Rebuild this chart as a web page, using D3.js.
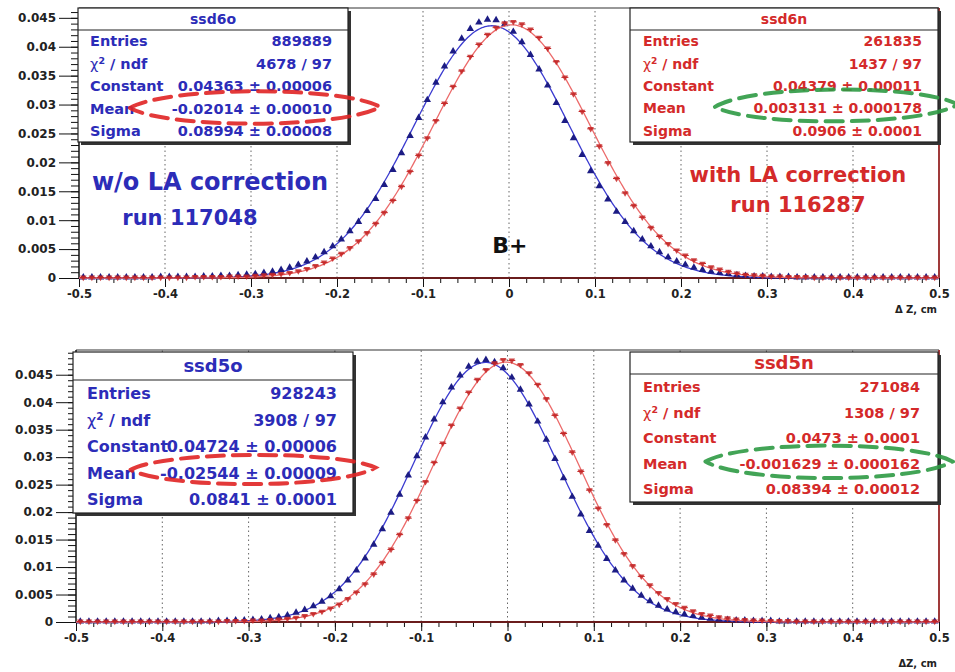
<!DOCTYPE html>
<html>
<head>
<meta charset="utf-8">
<script src="https://cdn.jsdelivr.net/npm/d3@7"></script>
<style>
body { margin: 0; background: #fff; }
svg { display: block; font-family: "DejaVu Sans", sans-serif; font-weight: bold; }
</style>
</head>
<body>
<svg id="chart" width="955" height="672"></svg>
<script>
// histogram binning: 100 bins from -0.5 to 0.5
var binLo = -0.5, binWidth = 0.01;

// ssd6o (blue, top) - bin contents
var ssd6o = [
  0.0001,0.0001,0.0001,0.0001,0.0001,0.0001,0.0001,0.0001,0.0001,0.0002,
  0.0002,0.0002,0.0002,0.0002,0.0003,0.0003,0.0004,0.0004,0.0005,0.0006,
  0.0007,0.0009,0.0011,0.0014,0.0018,0.0023,0.0029,0.0036,0.0045,0.0055,
  0.0067,0.0081,0.0097,0.0116,0.0137,0.0161,0.0187,0.0216,0.0246,0.0277,
  0.0308,0.0338,0.0366,0.0392,0.0414,0.0431,0.0442,0.0447,0.0446,0.0439,
  0.0426,0.0408,0.0386,0.0361,0.0333,0.0303,0.0272,0.0242,0.0213,0.0185,
  0.0159,0.0136,0.0115,0.0097,0.0081,0.0067,0.0055,0.0045,0.0036,0.0029,
  0.0023,0.0018,0.0014,0.0011,0.0009,0.0007,0.0005,0.0004,0.0003,0.0003,
  0.0002,0.0002,0.0002,0.0001,0.0001,0.0001,0.0001,0.0001,0.0001,0.0001,
  0.0001,0.0001,0.0001,0.0001,0.0001,0.0001,0.0001,0.0001,0.0001,0.0001
];
// ssd6n (red, top)
var ssd6n = [
  0.0001,0.0001,0.0001,0.0001,0.0001,0.0001,0.0001,0.0001,0.0001,0.0001,
  0.0001,0.0001,0.0001,0.0002,0.0002,0.0002,0.0002,0.0003,0.0003,0.0003,
  0.0004,0.0005,0.0006,0.0007,0.0009,0.0012,0.0016,0.0021,0.0027,0.0034,
  0.0042,0.0052,0.0064,0.0078,0.0094,0.0113,0.0134,0.0158,0.0184,0.0212,
  0.0242,0.0272,0.0302,0.0331,0.0358,0.0383,0.0404,0.0421,0.0433,0.0441,
  0.0443,0.0439,0.0430,0.0416,0.0397,0.0374,0.0347,0.0318,0.0288,0.0258,
  0.0228,0.0199,0.0172,0.0147,0.0125,0.0105,0.0087,0.0072,0.0059,0.0048,
  0.0039,0.0031,0.0025,0.0019,0.0015,0.0011,0.0008,0.0006,0.0005,0.0004,
  0.0003,0.0003,0.0002,0.0002,0.0002,0.0001,0.0001,0.0001,0.0001,0.0001,
  0.0001,0.0001,0.0001,0.0001,0.0001,0.0001,0.0001,0.0001,0.0001,0.0001
];
// ssd5o (blue, bottom)
var ssd5o = [
  0.0001,0.0001,0.0001,0.0001,0.0001,0.0001,0.0001,0.0001,0.0001,0.0001,
  0.0001,0.0001,0.0001,0.0001,0.0001,0.0001,0.0002,0.0002,0.0003,0.0003,
  0.0004,0.0005,0.0007,0.0009,0.0012,0.0017,0.0022,0.0029,0.0037,0.0047,
  0.0060,0.0076,0.0094,0.0116,0.0141,0.0169,0.0199,0.0232,0.0267,0.0302,
  0.0336,0.0369,0.0400,0.0427,0.0449,0.0465,0.0474,0.0477,0.0473,0.0462,
  0.0445,0.0423,0.0396,0.0365,0.0332,0.0297,0.0262,0.0228,0.0196,0.0166,
  0.0139,0.0115,0.0094,0.0076,0.0061,0.0048,0.0038,0.0030,0.0023,0.0018,
  0.0014,0.0011,0.0008,0.0006,0.0005,0.0004,0.0003,0.0003,0.0002,0.0002,
  0.0002,0.0001,0.0001,0.0001,0.0001,0.0001,0.0001,0.0001,0.0001,0.0001,
  0.0001,0.0001,0.0001,0.0001,0.0001,0.0001,0.0001,0.0001,0.0001,0.0001
];
// ssd5n (red, bottom)
var ssd5n = [
  0.0001,0.0001,0.0001,0.0001,0.0001,0.0001,0.0001,0.0001,0.0001,0.0001,
  0.0001,0.0001,0.0001,0.0001,0.0001,0.0001,0.0001,0.0002,0.0002,0.0002,
  0.0003,0.0003,0.0004,0.0005,0.0006,0.0008,0.0011,0.0015,0.0019,0.0025,
  0.0032,0.0042,0.0054,0.0069,0.0087,0.0108,0.0132,0.0159,0.0189,0.0221,
  0.0255,0.0290,0.0325,0.0358,0.0389,0.0418,0.0441,0.0459,0.0471,0.0477,
  0.0476,0.0468,0.0453,0.0432,0.0406,0.0376,0.0343,0.0309,0.0274,0.0240,
  0.0207,0.0177,0.0149,0.0124,0.0102,0.0083,0.0067,0.0053,0.0042,0.0033,
  0.0026,0.0020,0.0015,0.0012,0.0009,0.0007,0.0005,0.0004,0.0003,0.0003,
  0.0002,0.0002,0.0002,0.0001,0.0001,0.0001,0.0001,0.0001,0.0001,0.0001,
  0.0001,0.0001,0.0001,0.0001,0.0001,0.0001,0.0001,0.0001,0.0001,0.0001
];

// gaussian fit parameters [constant, mean, sigma]
var fit6o = [0.04363, -0.02014, 0.08994];
var fit6n = [0.04379, 0.003131, 0.0906];
var fit5o = [0.04724, -0.02544, 0.0841];
var fit5n = [0.0473, -0.001629, 0.08394];

// stats box texts
var statLabels = ["Entries", "chi2", "Constant", "Mean", "Sigma"];
var stats6o = ["889889", "4678 / 97", "0.04363 \u00b1 0.00006", "-0.02014 \u00b1 0.00010", "0.08994 \u00b1 0.00008"];
var stats6n = ["261835", "1437 / 97", "0.04379 \u00b1 0.00011", "0.003131 \u00b1 0.000178", "0.0906 \u00b1 0.0001"];
var stats5o = ["928243", "3908 / 97", "0.04724 \u00b1 0.00006", "-0.02544 \u00b1 0.00009", "0.0841 \u00b1 0.0001"];
var stats5n = ["271084", "1308 / 97", "0.0473 \u00b1 0.0001", "-0.001629 \u00b1 0.000162", "0.08394 \u00b1 0.00012"];

// axis ticks
var xMajor = [-0.5, -0.4, -0.3, -0.2, -0.1, 0, 0.1, 0.2, 0.3, 0.4, 0.5];
var yMajor = [0, 0.005, 0.01, 0.015, 0.02, 0.025, 0.03, 0.035, 0.04, 0.045];

var blue = "#2c2cb8", red = "#d42a2a", green = "#2e9a44";

var svg = d3.select("#chart");

function drawPanel(p) {
  var x = d3.scaleLinear().domain([-0.5, 0.5]).range([p.left, p.right]);
  var y = d3.scaleLinear().domain([0, p.yMax]).range([p.bottom, p.top]);
  var g = svg.append("g");

  // vertical dotted grid
  g.selectAll("line.grid").data(xMajor.slice(1, -1)).enter().append("line")
    .attr("x1", d => x(d)).attr("x2", d => x(d))
    .attr("y1", p.bottom).attr("y2", p.top)
    .attr("stroke", "#666").attr("stroke-width", 1)
    .attr("stroke-dasharray", "1.5,3");

  // frame
  g.append("line").attr("x1", p.left).attr("x2", p.right).attr("y1", p.top).attr("y2", p.top)
    .attr("stroke", "#333").attr("stroke-width", 1.2);
  g.append("line").attr("x1", p.left).attr("x2", p.left).attr("y1", p.top).attr("y2", p.bottom)
    .attr("stroke", "#111").attr("stroke-width", 1.5);
  g.append("line").attr("x1", p.right).attr("x2", p.right).attr("y1", p.top).attr("y2", p.bottom)
    .attr("stroke", "#a03a3a").attr("stroke-width", 2);

  // axes
  var xa = g.append("g").attr("transform", "translate(0," + p.bottom + ")")
    .call(d3.axisBottom(x).tickValues(xMajor).tickSize(9).tickPadding(3).tickFormat(d => String(d)));
  g.append("g").attr("transform", "translate(0," + p.bottom + ")")
    .call(d3.axisBottom(x).tickValues(d3.range(-0.5, 0.5001, 0.02)).tickSize(5).tickFormat(""));
  var ya = g.append("g").attr("transform", "translate(" + p.left + ",0)")
    .call(d3.axisLeft(y).tickValues(yMajor).tickSize(20).tickPadding(3).tickFormat(d => String(d)));
  g.append("g").attr("transform", "translate(" + p.left + ",0)")
    .call(d3.axisLeft(y).tickValues(d3.range(0, p.yMax, 0.001)).tickSize(8).tickFormat(""));
  g.selectAll(".domain").remove();
  g.selectAll(".tick line").attr("stroke", "#111");
  xa.selectAll("text").attr("font-size", 11.5).attr("fill", "#222").attr("font-family", "DejaVu Sans").attr("font-weight", "bold");
  ya.selectAll("text").attr("font-size", 12).attr("fill", "#222").attr("font-family", "DejaVu Sans").attr("font-weight", "bold");

  // zero line
  g.append("line").attr("x1", p.left).attr("x2", p.right).attr("y1", p.bottom).attr("y2", p.bottom)
    .attr("stroke", "#6a1c1c").attr("stroke-width", 2);

  // axis title
  g.append("text").attr("x", p.right - 2).attr("y", p.bottom + p.titleDy)
    .attr("text-anchor", "end").attr("font-size", 10).attr("fill", "#222")
    .text(p.title);

  var fitLine = d3.line().x(d => x(d[0])).y(d => y(d[1]));
  var grid = d3.range(-0.5, 0.5001, 0.002);

  p.series.forEach(function(s) {
    var pts = s.values.map((v, i) => [binLo + binWidth * (i + 0.5), v]);
    var fitPts = grid.map(v => [v, s.fit[0] * Math.exp(-0.5 * Math.pow((v - s.fit[1]) / s.fit[2], 2))]);
    g.append("path").attr("d", fitLine(fitPts)).attr("fill", "none")
      .attr("stroke", s.fitColor).attr("stroke-width", 1.3);
    var m = g.selectAll(null).data(pts).enter().append("g")
      .attr("transform", d => "translate(" + x(d[0]) + "," + y(d[1]) + ")");
    if (s.kind === "blue") {
      m.append("path").attr("d", d3.symbol().type(d3.symbolTriangle).size(24))
        .attr("fill", s.color);
    } else {
      m.append("path").attr("d", d3.symbol().type(d3.symbolTriangle).size(18))
        .attr("transform", "rotate(180)").attr("fill", s.color).attr("opacity", 0.85);
      m.append("line").attr("x1", -3.5).attr("x2", 3.5).attr("y1", 0).attr("y2", 0)
        .attr("stroke", s.color).attr("stroke-width", 1);
    }
  });

  // stats boxes
  p.boxes.forEach(function(b) { drawStats(b); });

  // overlay layer above the boxes
  var over = svg.append("g");

  // free text
  p.notes.forEach(function(n) {
    over.append("text").attr("x", x(n.at[0])).attr("y", y(n.at[1]))
      .attr("text-anchor", "middle").attr("font-size", n.size).attr("fill", n.color)
      .text(n.text);
  });

  // hand drawn dashed loops: [leftX, leftY, rightX, rightY, topY, bottomY]
  p.loops.forEach(function(l) {
    var x0 = x(l.pts[0]), y0 = y(l.pts[1]), x1 = x(l.pts[2]), y1 = y(l.pts[3]);
    var tip = (y0 + y1) / 2;
    var cTop = (y(l.pts[4]) - 0.25 * tip) / 0.75, cBot = (y(l.pts[5]) - 0.25 * tip) / 0.75;
    var xa = x0 + (x1 - x0) * 0.15, xb = x0 + (x1 - x0) * 0.85;
    var path = d3.path();
    path.moveTo(x0, y0);
    path.bezierCurveTo(xa, cTop, xb, cTop, x1, y1);
    path.bezierCurveTo(xb, cBot, xa, cBot, x0, y0);
    over.append("path").attr("d", path.toString()).attr("fill", "none")
      .attr("stroke", l.color).attr("stroke-width", 4)
      .attr("stroke-dasharray", "17,9").attr("stroke-linecap", "round")
      .attr("opacity", 0.9);
  });
}

function drawStats(b) {
  var g = svg.append("g");
  g.append("rect").attr("x", b.x + 3).attr("y", b.y + 3).attr("width", b.w).attr("height", b.h)
    .attr("fill", "#333");
  g.append("rect").attr("x", b.x).attr("y", b.y).attr("width", b.w).attr("height", b.h)
    .attr("fill", "#fff").attr("stroke", "#222").attr("stroke-width", 1.2);
  g.append("line").attr("x1", b.x).attr("x2", b.x + b.w).attr("y1", b.sep).attr("y2", b.sep)
    .attr("stroke", "#222").attr("stroke-width", 1.2);
  g.append("text").attr("x", b.x + b.w / 2).attr("y", (b.y + b.sep) / 2).attr("dy", "0.36em")
    .attr("text-anchor", "middle").attr("font-size", b.headSize).attr("fill", b.color)
    .text(b.name);
  var rowH = (b.y + b.h - b.sep) / 5;
  statLabels.forEach(function(lab, i) {
    var cy = b.sep + rowH * (i + 0.5);
    var t = g.append("text").attr("x", b.x + b.padL).attr("y", cy).attr("dy", "0.36em")
      .attr("font-size", b.size).attr("fill", b.color);
    if (lab === "chi2") {
      t.append("tspan").attr("font-weight", "normal").text("\u03c7");
      t.append("tspan").attr("font-size", b.size * 0.65).attr("dy", "-0.5em").text("2");
      t.append("tspan").attr("dy", "0.32em").text(" / ndf");
    } else {
      t.text(lab);
    }
    g.append("text").attr("x", b.x + b.w - b.padR).attr("y", cy).attr("dy", "0.36em")
      .attr("text-anchor", "end").attr("font-size", b.size).attr("fill", b.color)
      .text(b.values[i]);
  });
}

drawPanel({
  left: 79, right: 939, top: 8, bottom: 278, yMax: 0.0467,
  title: "\u0394 Z, cm", titleDy: 35,
  series: [
    {values: ssd6o, fit: fit6o, kind: "blue", color: "#1c1c84", fitColor: "#3b3bd0"},
    {values: ssd6n, fit: fit6n, kind: "red", color: "#c42626", fitColor: "#ec6a6a"}
  ],
  boxes: [
    {x: 78, y: 8, w: 270, h: 134, sep: 30, name: "ssd6o", values: stats6o, color: blue, size: 14.5, headSize: 14, padL: 12, padR: 16},
    {x: 630, y: 8, w: 308, h: 134, sep: 30, name: "ssd6n", values: stats6n, color: red, size: 14, headSize: 14, padL: 13, padR: 16}
  ],
  notes: [
    {text: "w/o LA correction", at: [-0.3477, 0.0152], size: 24, color: blue},
    {text: "run 117048", at: [-0.371, 0.0092], size: 21, color: blue},
    {text: "with LA correction", at: [0.336, 0.0166], size: 21, color: red},
    {text: "run 116287", at: [0.336, 0.0114], size: 21, color: red},
    {text: "B+", at: [0.001, 0.0043], size: 22, color: "#111"}
  ],
  loops: [
    {pts: [-0.4407, 0.0294, -0.150, 0.0296, 0.0323, 0.0267], color: "#e02424"},
    {pts: [0.2395, 0.0296, 0.522, 0.0300, 0.0326, 0.0271], color: green}
  ]
});

drawPanel({
  left: 76, right: 939, top: 350, bottom: 622, yMax: 0.0495,
  title: "\u0394Z, cm", titleDy: 45,
  series: [
    {values: ssd5o, fit: fit5o, kind: "blue", color: "#1c1c84", fitColor: "#3b3bd0"},
    {values: ssd5n, fit: fit5n, kind: "red", color: "#c42626", fitColor: "#ec6a6a"}
  ],
  boxes: [
    {x: 73, y: 352, w: 280, h: 161, sep: 380, name: "ssd5o", values: stats5o, color: blue, size: 16, headSize: 18, padL: 14, padR: 16},
    {x: 630, y: 352, w: 308, h: 150, sep: 374, name: "ssd5n", values: stats5n, color: red, size: 14.5, headSize: 18, padL: 13, padR: 18}
  ],
  notes: [],
  loops: [
    {pts: [-0.4368, 0.0277, -0.153, 0.0281, 0.0304, 0.0251], color: "#e02424"},
    {pts: [0.2294, 0.0292, 0.5156, 0.0292, 0.0321, 0.0262], color: green}
  ]
});
</script>
</body>
</html>
